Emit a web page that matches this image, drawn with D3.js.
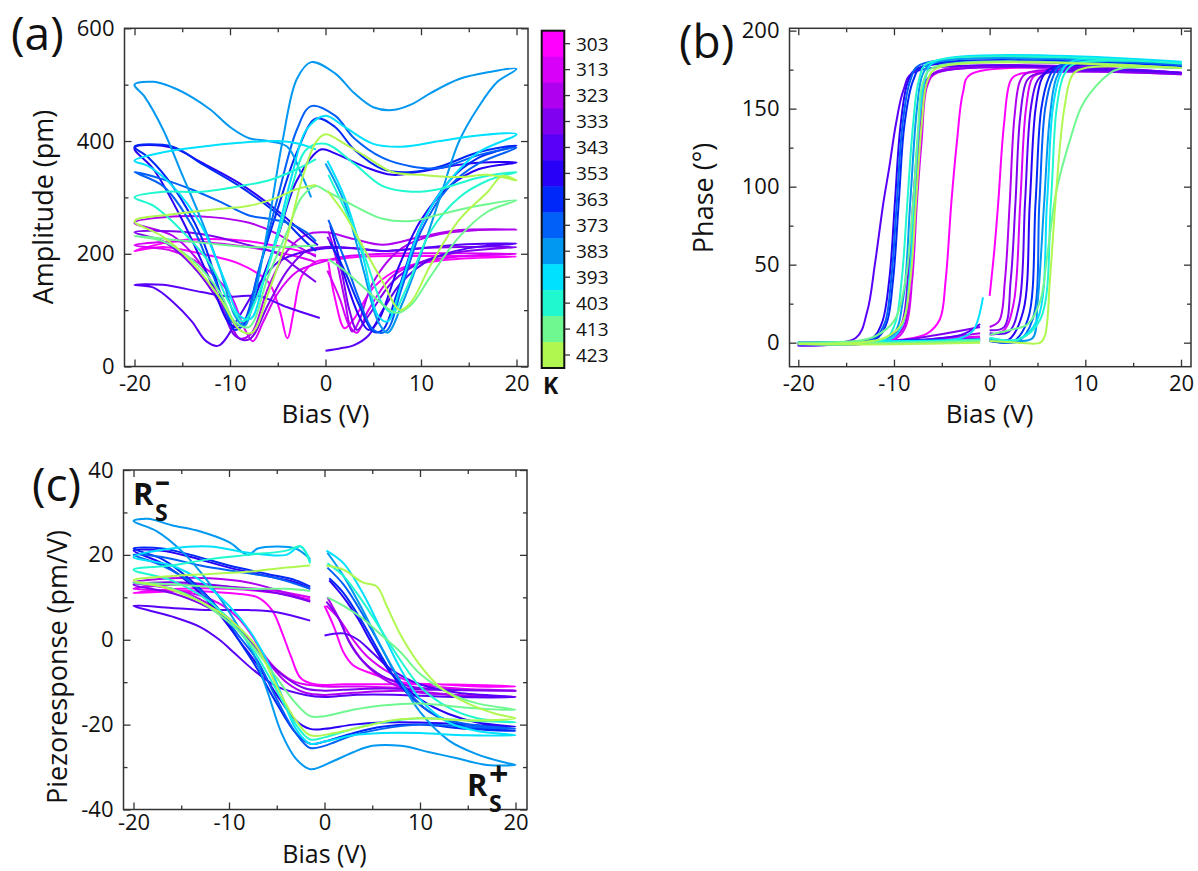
<!DOCTYPE html>
<html>
<head>
<meta charset="utf-8">
<script src="https://cdn.jsdelivr.net/npm/d3@7"></script>
<style>
  body { margin: 0; background: #fff; }
  text { font-family: "Open Sans", sans-serif; fill: #111; }
</style>
</head>
<body>
<svg id="chart" width="1198" height="871"></svg>
<script>
// temperatures (K) and the colour of each loop
const temps = [303, 313, 323, 333, 343, 353, 363, 373, 383, 393, 403, 413, 423];
const colors = ["#ff00ff", "#d800f8", "#b000f0", "#8000f0", "#5800f8", "#2800f8", "#0028f8",
                "#0060f8", "#0098f0", "#00e0ff", "#20f8d0", "#70f890", "#b0f850"];

// tick values
const biasTicks = [-20, -10, 0, 10, 20];
const biasMinor = [-15, -5, 5, 15];
const ampTicks = [0, 200, 400, 600];
const ampMinor = [100, 300, 500];
const phaseTicks = [0, 50, 100, 150, 200];
const phaseMinor = [25, 75, 125, 175];
const prTicks = [-40, -20, 0, 20, 40];
const prMinor = [-30, -10, 10, 30];

// (a) amplitude loops, [bias V, pm], sweep 0 -> +20 -> -20 -> 0
const amp303 = [[0.3,185],[1,120],[2,68],[3,85],[5,140],[8,175],[12,188],[16,193],[20,195],[14,196],[8,196],[4,195],[1,190],[-1,186],[-2.5,160],[-3.3,100],[-4,50],[-4.8,100],[-6,150],[-9,182],[-13,200],[-17,212],[-20,205],[-16,222],[-12,226],[-8,222],[-4,210],[-1,198]];
const amp313 = [[0.2,170],[1.5,120],[2.5,72],[3.3,60],[4.5,100],[7,160],[10,185],[14,195],[20,200],[12,201],[6,200],[2,195],[-1,182],[-3,168],[-5,130],[-6.5,80],[-7.6,45],[-8.5,68],[-10,128],[-13,180],[-16,205],[-20,215],[-15,222],[-10,216],[-6,206],[-3,195],[-1,185]];
const amp323 = [[0.3,240],[1,200],[2,120],[2.8,62],[3.5,80],[5,150],[8,210],[12,235],[16,242],[20,243],[14,242],[10,230],[6,216],[3,226],[0,238],[-2,234],[-4,205],[-6,140],[-7.8,58],[-9,50],[-10.5,100],[-13,180],[-16,232],[-20,255],[-16,266],[-12,265],[-8,255],[-5,235],[-3,214],[-1,195]];
const amp333 = [[0.2,230],[1.5,180],[2.5,100],[3.3,65],[4.5,90],[7,150],[10,185],[14,203],[20,212],[14,212],[10,210],[6,205],[3,210],[0,212],[-2,205],[-4,170],[-6,110],[-8,48],[-9.5,55],[-11,110],[-14,180],[-17,222],[-20,238],[-16,240],[-12,232],[-8,215],[-5,200],[-3,175],[-1,150]];
const amp343 = [[0,28],[1.5,32],[3,38],[4.5,55],[6,100],[8,150],[11,190],[15,210],[20,218],[14,216],[10,210],[6,205],[3,210],[0,210],[-3,200],[-5,185],[-7,145],[-9,90],[-11.2,37],[-12.5,45],[-14,80],[-16,115],[-18,140],[-20,145],[-17,145],[-13,132],[-10,124],[-7,125],[-4,105],[-0.6,86]];
const amp353 = [[0.5,250],[2,160],[3.5,90],[4.5,65],[5.5,80],[7.5,170],[10,260],[13,320],[16,350],[20,362],[15,360],[10,346],[7,340],[4,355],[1,378],[-0.5,385],[-3,330],[-5,230],[-7,140],[-8.8,70],[-10,75],[-12,150],[-15,260],[-18,350],[-20,388],[-16,388],[-13,362],[-9,325],[-5,276],[-2,232],[-0.8,215]];
const amp363 = [[0.5,220],[2,170],[3.5,110],[5,62],[6,65],[7.5,130],[10,250],[13,330],[16,370],[20,392],[16,380],[12,355],[9,345],[6,350],[3,385],[1,425],[-1,440],[-3,380],[-5,280],[-7,170],[-8.5,80],[-9.5,65],[-11,130],[-13,230],[-16,320],[-18.5,370],[-20,390],[-16,390],[-13,360],[-9,320],[-5,270],[-2,220],[-1,205]];
const amp373 = [[0.3,260],[2,190],[3.5,120],[5,65],[6.3,62],[8,140],[10,240],[13,320],[16,360],[20,388],[16,375],[12,352],[9,355],[6,370],[3,405],[1,445],[-1.5,462],[-3,420],[-5,300],[-7,170],[-8.7,75],[-9.8,80],[-11.5,150],[-14,250],[-17,320],[-20,345],[-17,332],[-14,314],[-11,292],[-8,268],[-6,262],[-4,255],[-2,238],[-1,222]];
const amp383 = [[0,360],[2,290],[4,170],[5.5,80],[6.5,60],[8,110],[10,200],[12,300],[14,400],[16,460],[18,505],[20,528],[17,522],[14,510],[11,485],[9,465],[7,455],[5,460],[3,485],[1,520],[-1.5,540],[-3,510],[-4.5,400],[-6,250],[-7.5,120],[-8.5,72],[-9.5,90],[-11,170],[-13,260],[-15,340],[-17,420],[-19,480],[-20,500],[-18,505],[-16,495],[-14,478],[-12,455],[-10,425],[-8,405],[-6,400],[-4,390],[-2.5,340],[-1.5,300]];
const amp393 = [[0.2,365],[2,300],[4,190],[5.5,90],[6.5,80],[8,150],[10,250],[13,330],[16,380],[20,412],[16,410],[12,400],[8,390],[5,395],[2,425],[0,445],[-2,420],[-3.5,340],[-5,240],[-6.5,150],[-7.8,85],[-9,90],[-10.5,150],[-13,250],[-16,320],[-18.5,355],[-20,365],[-17,380],[-13,390],[-9,397],[-5,400],[-3,396],[-1,385]];
const amp403 = [[0.3,340],[2,280],[4,200],[6,110],[7,95],[8.5,140],[11,240],[14,300],[17,330],[20,345],[16,335],[12,315],[9,310],[6,320],[3,360],[0,395],[-2,385],[-3.5,320],[-5,230],[-7,130],[-8.6,80],[-10,110],[-12,180],[-15,240],[-18,285],[-20,300],[-17,310],[-13,310],[-9,320],[-6,330],[-3,350],[-1,368]];
const amp413 = [[0.3,190],[2,170],[4,140],[6,110],[7.5,95],[9,110],[11,160],[14,230],[17,275],[20,295],[16,285],[12,270],[9,258],[6,262],[3,285],[0,312],[-1,320],[-2.5,300],[-4,240],[-6,160],[-8,70],[-9.5,80],[-11,130],[-14,190],[-17,222],[-20,232],[-16,225],[-12,218],[-8,212],[-4,212],[-1,215]];
const amp423 = [[0.2,312],[2,270],[4,210],[6,150],[7.8,100],[9,115],[11,180],[14,260],[17,310],[18.5,338],[20,330],[17,340],[14,336],[10,340],[7,345],[4,375],[2,395],[0,412],[-1,398],[-2.5,330],[-4,230],[-6,130],[-7.7,60],[-9,65],[-11,120],[-14,185],[-17,230],[-20,258],[-16,270],[-12,278],[-8,285],[-5,300],[-3,315],[-1,322]];

// (b) phase loops, [bias V, degrees]
const ph303 = [[0,30],[0.5,60],[0.9,90],[1.5,140],[2.2,168],[3,172],[20,172],[-2,172],[-2.8,160],[-3.4,130],[-4,90],[-4.6,40],[-5.2,15],[-6.5,6],[-9,2],[-20,0],[-10,1],[-1,3]];
const ph313 = [[0,5],[1.5,8],[2.5,25],[3.2,90],[3.8,150],[4.5,170],[5.5,173],[20,173],[-5.5,173],[-6.5,165],[-7.1,130],[-7.6,90],[-8.1,40],[-8.8,10],[-10,2],[-20,0],[-10,1],[-1,4]];
const ph323 = [[0,10],[1,14],[1.6,40],[2.1,90],[2.6,145],[3.2,168],[4,173],[20,173],[-5.8,173],[-6.8,160],[-7.3,130],[-7.8,90],[-8.3,40],[-9,10],[-10.5,2],[-20,-1],[-10,0],[-1,6]];
const ph333 = [[0,8],[1.5,10],[2.2,40],[2.7,90],[3.2,145],[3.9,168],[4.8,172],[20,172],[-6,172],[-7,160],[-7.5,130],[-8,90],[-8.5,45],[-9.2,12],[-10.5,2],[-20,-1],[-10,1],[-1,10]];
const ph343 = [[0,6],[2,7],[3.1,25],[3.7,90],[4.3,150],[5,168],[6,173],[20,173],[-8,173],[-9,162],[-9.8,140],[-10.5,112],[-11.1,90],[-12,50],[-12.8,20],[-14,3],[-20,-2],[-10,1],[-3,5],[-1,12]];
const ph353 = [[0,2],[2,2],[3.5,20],[4.2,90],[4.8,150],[5.5,170],[6.5,176],[20,176],[-7.5,176],[-8.5,168],[-9.3,140],[-9.9,90],[-10.5,40],[-11.3,12],[-12.5,2],[-20,0],[-10,1],[-1,2]];
const ph363 = [[0,1],[2.5,1],[4,15],[4.8,90],[5.4,150],[6.2,170],[7,177],[20,177],[-7,177],[-8,168],[-8.9,140],[-9.5,90],[-10.1,40],[-10.8,12],[-12,2],[-20,0],[-10,1],[-1,2]];
const ph373 = [[0,1],[3,1],[4.5,15],[5.2,90],[5.8,150],[6.6,170],[7.5,178],[20,178],[-7.3,178],[-8.3,168],[-9.1,140],[-9.7,90],[-10.3,40],[-11,12],[-12.3,2],[-20,0],[-10,1],[-1,2]];
const ph383 = [[0,2],[3,1],[4.5,3],[5,25],[5.7,90],[6.3,145],[7,170],[8,178],[20,179],[-6,179],[-7,172],[-7.6,150],[-8.3,90],[-9,30],[-10,6],[-12,1],[-20,0],[-10,0],[-1,1]];
const ph393 = [[0,3],[3,2],[5,15],[6,90],[6.6,150],[7.4,172],[8.5,180],[20,180],[-5.8,180],[-6.7,170],[-7.3,145],[-7.9,90],[-8.4,40],[-9.1,12],[-10.5,2],[-20,0],[-10,1],[-3,3],[-1.7,8],[-0.7,29]];
const ph403 = [[0,3],[3,2],[5.3,15],[6.4,90],[7,150],[7.8,172],[9,179],[20,179],[-6.5,179],[-7.4,168],[-8,140],[-8.6,90],[-9.2,40],[-9.9,12],[-11,2],[-20,-1],[-10,0],[-1,2]];
const ph413 = [[0,5],[2,8],[4,12],[5.3,27],[6,55],[7,98],[8.4,130],[9.5,150],[10.5,160],[12.9,174],[14,176],[20,176],[-6,176],[-7,166],[-7.5,135],[-8,90],[-8.8,40],[-10,14],[-12,4],[-14,1],[-20,0],[-10,0],[-1,1]];
const ph423 = [[0,1],[3,0],[5.3,0],[5.8,5],[6.3,40],[7,100],[7.8,150],[8.7,172],[10,176],[20,176],[-5.5,176],[-6.5,168],[-7.1,140],[-7.7,90],[-8.3,40],[-9.2,12],[-11,3],[-14,0],[-20,-1],[-10,-1],[-1,0]];

// (c) piezoresponse loops, [bias V, pm/V]
const pr303 = [[0,8],[1,3],[2,-3],[3,-6],[5,-8],[8,-10],[12,-10.5],[16,-11],[20,-11],[12,-10.5],[6,-10.5],[2,-10.5],[-1,-10.5],[-2.5,-9],[-3.5,-4],[-4.5,2],[-5.5,7],[-7,10],[-10,11],[-15,11.5],[-20,11],[-15,12],[-10,12],[-5,11],[-1.5,9.5]];
const pr313 = [[0.2,8],[1.5,5],[3,0],[4.5,-4],[7,-8],[10,-10.5],[14,-11.5],[20,-12],[10,-11.5],[4,-11],[0,-11],[-3,-10],[-5,-7],[-6.5,-3],[-7.6,1],[-9,5],[-11,8.5],[-14,11],[-20,12],[-15,13],[-10,12.5],[-5,11.5],[-1.5,10]];
const pr323 = [[0.3,10],[1.5,5],[2.5,0],[4,-5],[6,-9],[9,-12],[13,-13],[20,-13.5],[14,-13],[8,-12],[3,-12.5],[0,-13],[-2,-12.5],[-4,-10],[-6,-5],[-7.8,0],[-10,5],[-13,9.5],[-16,12],[-20,13.5],[-16,14.5],[-12,14.5],[-8,13.5],[-4,11],[-1.5,9]];
const pr333 = [[0.2,9],[1.5,5],[2.7,-1],[4,-5],[6,-8.5],[9,-11],[13,-11.8],[20,-12],[12,-11.8],[6,-11.5],[2,-11.8],[0,-12],[-2,-11.5],[-4,-9],[-6,-5],[-8,0],[-10,4.5],[-13,8.5],[-16,11],[-20,13],[-15,13.5],[-10,12.5],[-5,11],[-1.5,9]];
const pr343 = [[0,1],[2,1.5],[3.5,0],[5,-3],[7,-7],[10,-10.5],[14,-12.5],[20,-13.5],[14,-13.5],[8,-13],[3,-13],[0,-13.5],[-2,-13],[-5,-11],[-7.5,-7],[-9.5,-3],[-11,0],[-13,3],[-16,5.5],[-20,8],[-16,7.5],[-12,7],[-8,7],[-5,6.5],[-1.5,4.5]];
const pr353 = [[0.5,14],[2,10],[3.5,5],[5,-1],[7,-8],[10,-14],[13,-17.5],[16,-19.5],[20,-20.5],[15,-20],[10,-19.5],[6,-19.5],[3,-20],[0,-21],[-1.5,-21],[-3,-19],[-5,-13],[-7,-6],[-9,0],[-11,6],[-14,13],[-17,18],[-20,21],[-17,21],[-14,19.5],[-10,17],[-6,15],[-3,13.5],[-1.5,12]];
const pr363 = [[0.5,14.5],[2,11],[4,4],[6,-4],[8,-11],[11,-17],[14,-20],[20,-21.5],[15,-21],[10,-20],[6,-20.5],[3,-22],[0,-24],[-1.5,-24.5],[-3,-22],[-5,-15],[-7,-7],[-9,0],[-11,7],[-14,14],[-17,19],[-20,21.5],[-17,21.5],[-14,20],[-10,17.5],[-6,15.5],[-3,14],[-1.5,12.5]];
const pr373 = [[0.3,17],[2,13],[4,6],[6,-2],[8,-10],[11,-17],[14,-19.5],[20,-21],[15,-20.5],[10,-20],[6,-21],[3,-22.5],[0,-25],[-1.5,-25.5],[-3,-22],[-5,-14],[-7,-5],[-9,1],[-11,7],[-14,13.5],[-17,17.5],[-20,20],[-17,19.5],[-13,17.5],[-9,16],[-5,14.5],[-1.5,12]];
const pr383 = [[0.3,20.5],[2,15],[4,7],[6,-2],[8,-10],[10,-17],[13,-23.7],[16,-27],[19,-29],[20,-29.5],[17,-29.5],[14,-28],[11,-26.5],[8,-25],[5,-25],[3,-26.5],[1,-28.5],[-1.5,-30.5],[-3,-28],[-4.5,-22],[-6,-12],[-7.5,-3],[-9,3],[-11,10],[-13,16],[-15,21],[-17.5,25.5],[-20,28],[-18.5,28.5],[-16,27],[-13,25.5],[-10,23],[-8,20],[-7,21.5],[-5,22],[-3,21.5],[-1.5,19]];
const pr393 = [[0.2,21],[2,18],[4,11],[6,2],[8,-7],[10,-14],[13,-19.5],[16,-21.5],[20,-22.5],[15,-22.5],[10,-22],[6,-22],[3,-22.5],[0,-24],[-1.5,-24.5],[-3,-21],[-4.5,-13],[-6,-5],[-7.8,2],[-10,8],[-13,14],[-16,17.5],[-20,19.5],[-16,21.5],[-12,22],[-8,20.5],[-4,20],[-2.5,22],[-1.5,18.5]];
const pr403 = [[0.3,18],[2,15],[4,9],[6,2],[8,-5],[10,-11],[13,-16],[16,-18.5],[20,-19.5],[15,-19],[10,-18.5],[6,-19.5],[3,-21],[0,-23],[-1.5,-23.5],[-3,-20],[-5,-12],[-7,-4],[-8.6,1],[-10.5,6],[-13,10.5],[-16,14],[-20,16.5],[-16,17.5],[-12,19],[-8,20],[-4,21],[-2.5,22],[-1.5,18]];
const pr413 = [[0.3,10],[2,8],[4,5],[6,1],[8,-3],[10,-8],[13,-12.5],[16,-15],[20,-16.5],[15,-16],[10,-15],[6,-15.5],[3,-16.5],[0,-18],[-1.5,-18],[-3,-15],[-5,-9],[-7,-3],[-8.5,1],[-10.5,5],[-13,9],[-16,12],[-20,13.5],[-16,13],[-12,12.5],[-8,12],[-4,12],[-1.5,11.5]];
const pr423 = [[0.2,17.5],[2,16.5],[4,13.5],[5.5,12.5],[6.5,8],[8,1],[10,-6],[12,-11],[15,-15],[18,-17.5],[20,-18.5],[15,-19],[10,-18.5],[7,-19],[4,-20.5],[1,-22],[-1.5,-22.5],[-3,-19],[-5,-11],[-7,-2],[-9,3],[-11,6.5],[-14,10],[-17,12.5],[-20,14],[-16,15],[-12,15.5],[-8,16],[-4,17],[-1.5,17.5]];

const ampLoops = [amp303, amp313, amp323, amp333, amp343, amp353, amp363, amp373, amp383, amp393, amp403, amp413, amp423];
const phaseLoops = [ph303, ph313, ph323, ph333, ph343, ph353, ph363, ph373, ph383, ph393, ph403, ph413, ph423];
const prLoops = [pr303, pr313, pr323, pr333, pr343, pr353, pr363, pr373, pr383, pr393, pr403, pr413, pr423];

const svg = d3.select('#chart');

function drawPanel(p) {
    const g = svg.append('g');
    const x = d3.scaleLinear().domain([-20, 20]).range(p.xr);
    const y = d3.scaleLinear().domain(p.yd).range(p.yr);
    const [left, top, right, bottom] = p.box;

    // the loops
    const line = d3.line()
        .x(d => x(d[0]))
        .y(d => y(d[1]))
        .curve(d3.curveCatmullRom.alpha(0.5));
    p.loops.forEach((loop, i) => {
        g.append('path')
            .attr('d', line(loop))
            .attr('fill', 'none')
            .attr('stroke', colors[i])
            .attr('stroke-width', 2)
            .attr('stroke-linejoin', 'round');
    });

    // ticks on all four sides, pointing inwards
    const axes = [
        [d3.axisBottom(x), `translate(0,${bottom})`, true],
        [d3.axisTop(x), `translate(0,${top})`, false],
    ];
    axes.forEach(([ax, tr, lab]) => {
        g.append('g').attr('transform', tr)
            .call(ax.tickValues(biasTicks).tickSize(-7).tickPadding(p.xPad).tickFormat(lab ? d3.format('d') : ''));
        g.append('g').attr('transform', tr)
            .call(ax.tickValues(biasMinor).tickSize(-4).tickFormat(''));
    });
    const yaxes = [
        [d3.axisLeft(y), `translate(${left},0)`, true],
        [d3.axisRight(y), `translate(${right},0)`, false],
    ];
    yaxes.forEach(([ax, tr, lab]) => {
        g.append('g').attr('transform', tr)
            .call(ax.tickValues(p.yTicks).tickSize(-7).tickPadding(10).tickFormat(lab ? d3.format('d') : ''));
        g.append('g').attr('transform', tr)
            .call(ax.tickValues(p.yMinor).tickSize(-4).tickFormat(''));
    });
    g.selectAll('.domain').remove();
    g.selectAll('.tick line').attr('stroke', '#333').attr('stroke-width', 1.3);
    g.selectAll('.tick text')
        .attr('font-family', '"Open Sans", sans-serif')
        .attr('font-size', 22)
        .attr('fill', '#111')
        .text(function() { return this.textContent.replace('\u2212', '-'); });

    // frame
    g.append('rect')
        .attr('x', left).attr('y', top)
        .attr('width', right - left).attr('height', bottom - top)
        .attr('fill', 'none')
        .attr('stroke', '#333')
        .attr('stroke-width', 1.5);

    // titles
    g.append('text')
        .attr('x', x(0)).attr('y', p.xTitleY)
        .attr('text-anchor', 'middle')
        .attr('font-size', p.xTitleSize)
        .text('Bias (V)');
    g.append('text')
        .attr('transform', `translate(${p.yTitle[0]},${p.yTitle[1]}) rotate(-90)`)
        .attr('text-anchor', 'middle')
        .attr('font-size', 27)
        .text(p.yLabel);
    g.append('text')
        .attr('x', p.tag[0]).attr('y', p.tag[1])
        .attr('font-size', 46)
        .text(p.tagText);
    return { x, y };
}

drawPanel({
    box: [124.5, 28.3, 528, 366.5], xr: [134.5, 516.5], yd: [0, 600], yr: [366.5, 28.3],
    yTicks: ampTicks, yMinor: ampMinor, loops: ampLoops, xPad: 9, xTitleSize: 26,
    xTitleY: 423, yTitle: [53, 207], yLabel: 'Amplitude (pm)', tag: [11, 50], tagText: '(a)'
});
drawPanel({
    box: [789.5, 28.3, 1191, 366.7], xr: [798.3, 1181], yd: [-15.4, 201.5], yr: [366.7, 28.3],
    yTicks: phaseTicks, yMinor: phaseMinor, loops: phaseLoops, xPad: 9, xTitleSize: 26,
    xTitleY: 423, yTitle: [713, 198], yLabel: 'Phase (°)', tag: [679, 58], tagText: '(b)'
});
drawPanel({
    box: [123.5, 470, 527, 809.5], xr: [133.5, 515.5], yd: [-40, 40], yr: [809.5, 470],
    yTicks: prTicks, yMinor: prMinor, loops: prLoops, xPad: 5, xTitleSize: 25,
    xTitleY: 863, yTitle: [67, 667], yLabel: 'Piezoresponse (pm/V)', tag: [32, 501], tagText: '(c)'
});

// R_s labels in panel (c), one text each with sub/superscript tspans
function rsLabel(x0, y0, sign, signSize, signDy) {
    const t = svg.append('text')
        .attr('x', x0).attr('y', y0)
        .attr('font-weight', 'bold')
        .attr('font-size', 31);
    t.append('tspan').text('R');
    t.append('tspan').attr('x', x0 + 22).attr('y', y0 + 16).attr('font-size', 23).text('S');
    t.append('tspan').attr('x', x0 + 22).attr('y', y0 + signDy).attr('font-size', signSize).text(sign);
}
rsLabel(133, 505, '\u2013', 30, -13);
rsLabel(467, 796, '+', 34, -10);

// colour bar
const cb = svg.append('g');
const cbY = d3.scaleBand().domain(temps).range([30.7, 368]);
cb.selectAll('rect.seg')
    .data(temps)
    .join('rect')
    .attr('class', 'seg')
    .attr('x', 541.7).attr('width', 22.6)
    .attr('y', d => cbY(d)).attr('height', cbY.bandwidth() + 0.5)
    .attr('fill', (d, i) => colors[i]);
cb.append('rect')
    .attr('x', 541.7).attr('y', 30.7).attr('width', 22.6).attr('height', 337.3)
    .attr('fill', 'none').attr('stroke', '#111').attr('stroke-width', 2);
cb.selectAll('line.tk')
    .data(temps)
    .join('line')
    .attr('class', 'tk')
    .attr('x1', 564.3).attr('x2', 570)
    .attr('y1', d => cbY(d) + cbY.bandwidth() / 2).attr('y2', d => cbY(d) + cbY.bandwidth() / 2)
    .attr('stroke', '#333').attr('stroke-width', 1.3);
cb.selectAll('text.tl')
    .data(temps)
    .join('text')
    .attr('class', 'tl')
    .attr('x', 576).attr('y', d => cbY(d) + cbY.bandwidth() / 2)
    .attr('dy', '0.36em')
    .attr('font-size', 19)
    .text(d => d);
cb.append('text').attr('x', 543).attr('y', 394).attr('font-size', 23).attr('font-weight', 'bold').text('K');
</script>
</body>
</html>
